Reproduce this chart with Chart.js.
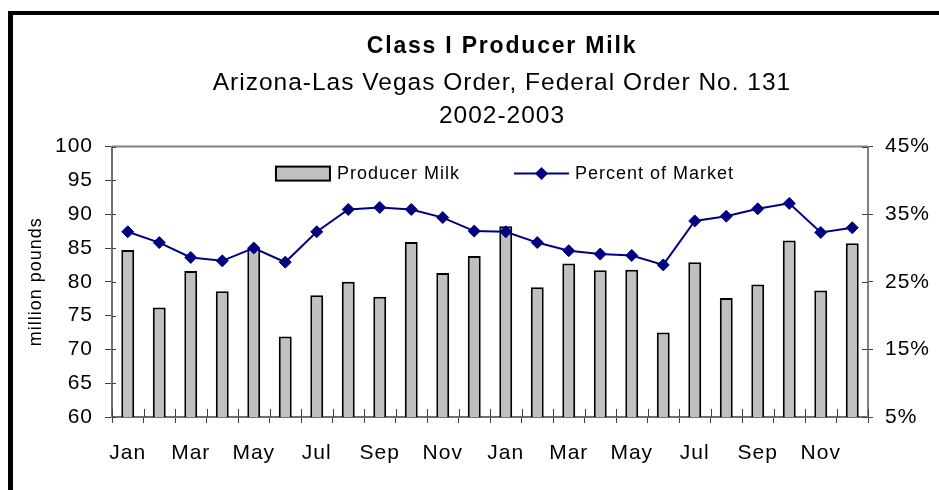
<!DOCTYPE html>
<html>
<head>
<meta charset="utf-8">
<title>Class I Producer Milk</title>
<script src="https://cdn.jsdelivr.net/npm/chart.js@4.4.1/dist/chart.umd.min.js"></script>
<style>
  html, body { margin: 0; padding: 0; background: #fff; overflow: hidden; }
  #frame { position: absolute; left: 8px; top: 11px; width: 1200px; height: 800px;
           border-left: 5px solid #000; border-top: 4px solid #000; }
  #wrap { position: absolute; left: 0; top: 0; }
</style>
</head>
<body>
<div id="frame"></div>
<div id="wrap"><canvas id="milkChart" width="1004" height="490"></canvas></div>
<script>
// months, Jan 2002 - Dec 2003
var months = ['Jan', 'Feb', 'Mar', 'Apr', 'May', 'Jun', 'Jul', 'Aug', 'Sep', 'Oct', 'Nov', 'Dec',
              'Jan', 'Feb', 'Mar', 'Apr', 'May', 'Jun', 'Jul', 'Aug', 'Sep', 'Oct', 'Nov', 'Dec'];

// Class I producer milk, million pounds
var producerMilk = [84.7, 76.2, 81.6, 78.6, 85.0, 71.9, 78.0, 80.0, 77.8, 85.9, 81.3, 83.8,
                    88.2, 79.2, 82.7, 81.7, 81.8, 72.5, 82.9, 77.6, 79.6, 86.1, 78.7, 85.7];

// Class I as percent of market
var percentOfMarket = [32.4, 30.8, 28.6, 28.1, 30.0, 27.9, 32.4, 35.7, 36.0, 35.7, 34.5, 32.5,
                       32.4, 30.8, 29.6, 29.1, 28.9, 27.5, 34.0, 34.7, 35.8, 36.6, 32.3, 33.0];

var poundsRange = [60, 100, 5];   // min, max, step
var percentRange = [5, 45, 10];

Chart.defaults.font.family = '"Liberation Sans", Arial, sans-serif';
Chart.defaults.color = '#000';

// old Excel charts print text a bit spread out
var letterSpacing = {
    id: 'letterSpacing',
    beforeUpdate: function (chart) { chart.ctx.letterSpacing = '1px'; },
    beforeDraw: function (chart) {
        chart.ctx.letterSpacing = '1px';
        var t = chart.titleBlock;
        if (t && !t.spaced) {
            var draw = t.draw;
            t.draw = function () {
                chart.ctx.letterSpacing = '1.8px';
                draw.apply(this, arguments);
                chart.ctx.letterSpacing = '1px';
            };
            t.spaced = true;
        }
    }
};

// top border of the plot and the tick stubs that cross the axes
var plotFrame = {
    id: 'plotFrame',
    beforeDatasetsDraw: function (chart) {
        var ctx = chart.ctx, a = chart.chartArea, s = chart.scales;
        ctx.save();
        ctx.strokeStyle = '#808080';
        ctx.lineWidth = 2;
        ctx.beginPath();
        ctx.moveTo(a.left, a.top);
        ctx.lineTo(a.right, a.top);
        ctx.stroke();

        ctx.strokeStyle = '#404040';
        ctx.lineWidth = 1;
        ctx.beginPath();
        s.y.ticks.forEach(function (t) {
            var p = Math.round(s.y.getPixelForValue(t.value)) + 0.5;
            ctx.moveTo(a.left, p); ctx.lineTo(a.left + 4, p);
        });
        s.y1.ticks.forEach(function (t) {
            var p = Math.round(s.y1.getPixelForValue(t.value)) + 0.5;
            ctx.moveTo(a.right - 6, p); ctx.lineTo(a.right, p);
        });
        var n = s.x.ticks.length, step = (a.right - a.left) / n;
        for (var i = 0; i <= n; i++) {
            var px = Math.round(a.left + i * step) + 0.5;
            ctx.moveTo(px, a.bottom); ctx.lineTo(px, a.bottom - 8);
        }
        ctx.stroke();
        ctx.restore();
    }
};

// legend sits inside the plot area
var insideLegend = {
    id: 'insideLegend',
    afterDatasetsDraw: function (chart) {
        var ctx = chart.ctx, a = chart.chartArea;
        var bars = chart.data.datasets[0], line = chart.data.datasets[1];
        ctx.save();
        ctx.font = '18px "Liberation Sans", Arial, sans-serif';
        ctx.letterSpacing = '1px';
        ctx.textBaseline = 'middle';
        var w1 = ctx.measureText(bars.label).width;
        var w2 = ctx.measureText(line.label).width;
        var total = 54 + 7 + w1 + 54 + 55 + 6 + w2;
        var x = (a.left + a.right) / 2 + 15 - total / 2;
        var y = a.top + 27;

        ctx.fillStyle = bars.backgroundColor;
        ctx.fillRect(x, y - 7, 54, 14);
        ctx.lineWidth = 2;
        ctx.strokeStyle = bars.borderColor;
        ctx.strokeRect(x, y - 7, 54, 14);
        x += 54 + 7;
        ctx.fillStyle = '#000';
        ctx.fillText(bars.label, x, y);
        x += w1 + 54;

        ctx.strokeStyle = line.borderColor;
        ctx.beginPath();
        ctx.moveTo(x, y);
        ctx.lineTo(x + 55, y);
        ctx.stroke();
        var cx = x + 27.5, r = 6.5;
        ctx.fillStyle = line.pointBackgroundColor;
        ctx.beginPath();
        ctx.moveTo(cx - r, y); ctx.lineTo(cx, y - r); ctx.lineTo(cx + r, y); ctx.lineTo(cx, y + r);
        ctx.closePath();
        ctx.fill();
        x += 55 + 6;
        ctx.fillStyle = '#000';
        ctx.fillText(line.label, x, y);
        ctx.restore();
    }
};

var ctx = document.getElementById('milkChart').getContext('2d');
var chart = new Chart(ctx, {
    type: 'bar',
    data: {
        labels: months,
        datasets: [{
            label: 'Producer Milk',
            data: producerMilk,
            yAxisID: 'y',
            backgroundColor: '#c0c0c0',
            borderColor: '#000000',
            borderWidth: 2,
            barPercentage: 0.41,
            categoryPercentage: 1,
            order: 1
        }, {
            type: 'line',
            label: 'Percent of Market',
            data: percentOfMarket,
            yAxisID: 'y1',
            borderColor: '#000080',
            borderWidth: 2,
            tension: 0,
            pointStyle: 'rectRot',
            pointRadius: 6,
            pointBackgroundColor: '#000080',
            pointBorderColor: '#000080',
            pointBorderWidth: 1,
            order: 0
        }]
    },
    options: {
        responsive: false,
        animation: false,
        devicePixelRatio: 1,
        layout: { padding: 0 },
        plugins: {
            legend: { display: false },
            tooltip: { enabled: false },
            title: {
                display: true,
                text: 'Class I Producer Milk',
                color: '#000',
                font: { size: 23, weight: 'bold', lineHeight: 1.2 },
                padding: { top: 33, bottom: 6 }
            },
            subtitle: {
                display: true,
                text: ['Arizona-Las Vegas Order, Federal Order No. 131', '2002-2003'],
                color: '#000',
                font: { size: 24.5, lineHeight: '33px' },
                padding: { top: 0, bottom: 14 }
            }
        },
        scales: {
            x: {
                grid: { offset: true, drawOnChartArea: false, tickLength: 6, color: '#404040' },
                border: { color: '#707070', width: 2 },
                ticks: {
                    autoSkip: false,
                    maxRotation: 0,
                    padding: 18,
                    font: { size: 21 },
                    callback: function (v, i) { return i % 2 === 0 ? this.getLabelForValue(v) : ''; }
                },
                afterFit: function (s) { s.height = 73; }
            },
            y: {
                position: 'left',
                min: poundsRange[0],
                max: poundsRange[1],
                ticks: { stepSize: poundsRange[2], padding: 12, font: { size: 21 } },
                grid: { drawOnChartArea: false, tickLength: 7, color: '#404040' },
                border: { color: '#707070', width: 2 },
                title: {
                    display: true,
                    text: 'million pounds',
                    font: { size: 18 },
                    padding: { top: 25, bottom: 0 }
                },
                afterFit: function (s) { s.width = 112; }
            },
            y1: {
                position: 'right',
                min: percentRange[0],
                max: percentRange[1],
                ticks: {
                    stepSize: percentRange[2],
                    padding: 12,
                    font: { size: 21 },
                    callback: function (v) { return v + '%'; }
                },
                grid: { drawOnChartArea: false, tickLength: 5, color: '#404040' },
                border: { color: '#808080', width: 2 },
                afterFit: function (s) { s.width = 1004 - 868; }
            }
        }
    },
    plugins: [letterSpacing, plotFrame, insideLegend]
});
</script>
</body>
</html>
